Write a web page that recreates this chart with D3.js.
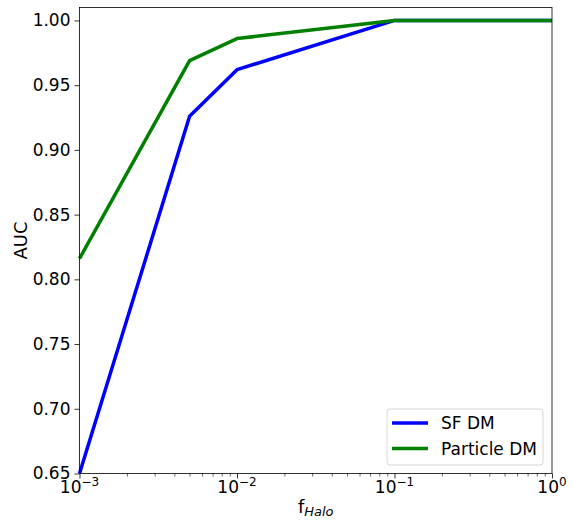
<!DOCTYPE html>
<html><head><meta charset="utf-8">
<script src="https://cdn.jsdelivr.net/npm/d3@7"></script>
<style>body{margin:0;background:#fff}svg{font-family:"DejaVu Sans",sans-serif}</style>
</head><body><svg id="c" width="573" height="520"></svg>
<script>
const fHalo = [0.001, 0.005, 0.01, 0.1, 1];
const sfDM = [0.650, 0.926, 0.962, 1.000, 1.000];
const particleDM = [0.816, 0.969, 0.986, 1.000, 1.000];
const yTicks = [0.65, 0.70, 0.75, 0.80, 0.85, 0.90, 0.95, 1.00];
const xTicks = [1e-3, 1e-2, 1e-1, 1e0];
const xTickExp = ["\u22123", "\u22122", "\u22121", "0"];
const seriesNames = ["SF DM", "Particle DM"];
const seriesColors = ["#0000ff", "#008000"];

const svg = d3.select("#c");
const L = 79.5, R = 552, T = 7.5, B = 473.5;
const x = d3.scaleLog().domain([1e-3, 1]).range([L, R]);
const y = d3.scaleLinear().domain([0.65, 1.01]).range([B, T]);

const g = svg.append("g");
// y axis
const ya = g.append("g").attr("transform", `translate(${L},0)`)
  .call(d3.axisLeft(y).tickValues(yTicks).tickFormat(d3.format(".2f")).tickSizeOuter(0).tickSize(5).tickPadding(4));
ya.select(".domain").remove();
ya.selectAll("text").attr("font-size", 17).attr("fill", "#000").attr("font-family", "DejaVu Sans");
ya.selectAll("line").attr("stroke", "#000").attr("stroke-width", 0.8);

// x axis major
const xa = g.append("g").attr("transform", `translate(0,${B})`)
  .call(d3.axisBottom(x).tickValues(xTicks).tickFormat("").tickSizeOuter(0).tickSize(5));
xa.select(".domain").remove();
xa.selectAll("line").attr("stroke", "#000").attr("stroke-width", 0.8);
// minor ticks
const minor = [];
for (let e = -3; e < 0; e++) for (let m = 2; m <= 9; m++) minor.push(m * Math.pow(10, e));
const xm = g.append("g").attr("transform", `translate(0,${B})`)
  .call(d3.axisBottom(x).tickValues(minor).tickFormat("").tickSizeOuter(0).tickSize(3));
xm.select(".domain").remove();
xm.selectAll("line").attr("stroke", "#000").attr("stroke-width", 0.6);

// x tick labels with superscripts
xTicks.forEach((v, i) => {
  const t = g.append("text").attr("x", x(v)).attr("y", B + 19.5).attr("text-anchor", "middle")
    .attr("font-size", 17).attr("fill", "#000");
  t.append("tspan").text("10");
  t.append("tspan").attr("dy", -7).attr("font-size", 12).text(xTickExp[i]);
});

// lines
const line = d3.line().x((d, i) => x(fHalo[i])).y(d => y(d));
[sfDM, particleDM].forEach((s, k) => {
  g.append("path").datum(s).attr("d", line).attr("fill", "none")
    .attr("stroke", seriesColors[k]).attr("stroke-width", 3.5).attr("stroke-linejoin", "round");
});

// frame
g.append("rect").attr("x", L).attr("y", T).attr("width", R - L).attr("height", B - T)
  .attr("fill", "none").attr("stroke", "#000").attr("stroke-width", 0.8);

// axis labels
const xl = svg.append("text").attr("x", (L + R) / 2).attr("y", 513).attr("text-anchor", "middle")
  .attr("font-size", 18).attr("fill", "#000");
xl.append("tspan").text("f");
xl.append("tspan").attr("dy", 3).attr("font-size", 13).attr("font-style", "italic").text("Halo");
svg.append("text").attr("transform", `translate(27,${(T + B) / 2}) rotate(-90)`)
  .attr("text-anchor", "middle").attr("font-size", 18).attr("fill", "#000").text("AUC");

// legend
const lg = svg.append("g").attr("transform", "translate(387,409)");
lg.append("rect").attr("width", 156).attr("height", 56).attr("rx", 3)
  .attr("fill", "#fff").attr("fill-opacity", 0.8).attr("stroke", "#ccc").attr("stroke-width", 0.8);
seriesNames.forEach((n, k) => {
  const yy = 14 + k * 25.5;
  lg.append("line").attr("x1", 5).attr("x2", 41).attr("y1", yy).attr("y2", yy)
    .attr("stroke", seriesColors[k]).attr("stroke-width", 3.5);
  lg.append("text").attr("x", 54).attr("y", yy + 6).attr("font-size", 17).attr("fill", "#000").text(n);
});
</script></body></html>
